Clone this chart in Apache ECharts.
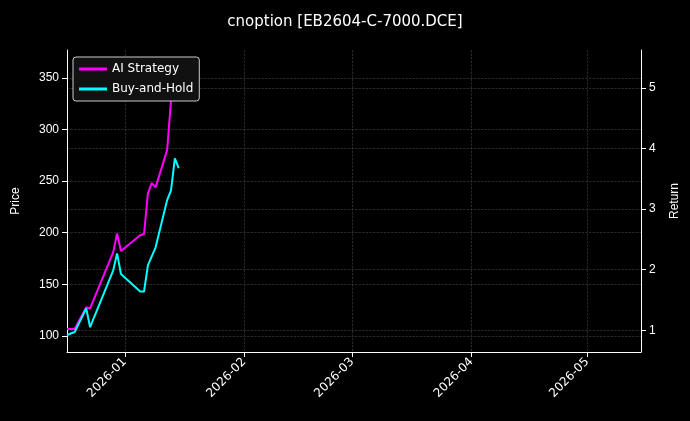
<!DOCTYPE html>
<html>
<head>
<meta charset="utf-8" />
<script src="https://cdn.jsdelivr.net/npm/echarts@6/dist/echarts.min.js"></script>
<style>body{margin:0;background:#000;} #c{width:690px;height:421px;}</style>
</head>
<body>
<div id="c"></div>
<script>
    // 收益曲线数据（读自图片）
    var aiDates = ['2025-12-17', '2025-12-19', '2025-12-22', '2025-12-23', '2025-12-29', '2025-12-30', '2025-12-31',
        '2026-01-05', '2026-01-06', '2026-01-07', '2026-01-08', '2026-01-09', '2026-01-12', '2026-01-13', '2026-01-14'];
    var aiValues = [1.02, 1.02, 1.38, 1.36, 2.29, 2.60, 2.31, 2.57, 2.59, 3.26, 3.43, 3.36, 3.98, 4.80, 5.40];
    var bhDates = ['2025-12-17', '2025-12-19', '2025-12-22', '2025-12-23', '2025-12-24', '2025-12-29', '2025-12-30', '2025-12-31',
        '2026-01-05', '2026-01-06', '2026-01-07', '2026-01-09', '2026-01-12', '2026-01-13', '2026-01-14', '2026-01-15'];
    var bhValues = [0.92, 0.97, 1.36, 1.05, 1.21, 1.99, 2.27, 1.93, 1.64, 1.64, 2.07, 2.37, 3.15, 3.31, 3.84, 3.68];
    var priceTicks = [100, 150, 200, 250, 300, 350];
    var returnTicks = [1, 2, 3, 4, 5];

    function pairs(d, v) { return d.map(function (x, i) { return [x, v[i]]; }); }

    var grid = { color: '#444', type: 'dashed', width: 0.6 };
    var chart = echarts.init(document.getElementById('c'));
    chart.setOption({
        backgroundColor: '#000',
        animation: false,
        title: { text: 'cnoption [EB2604-C-7000.DCE]', left: 'center', top: 10,
            textStyle: { color: '#fff', fontSize: 15, fontWeight: 'normal', fontFamily: 'DejaVu Sans' } },
        legend: {
            left: 73, top: 57, orient: 'vertical', itemWidth: 28, itemHeight: 3, itemGap: 8,
            borderColor: '#ccc', borderWidth: 1, borderRadius: 3, padding: [6, 6], backgroundColor: '#111',
            textStyle: { color: '#fff', fontSize: 12, fontFamily: 'DejaVu Sans' },
            data: [{ name: 'AI Strategy', icon: 'rect' }, { name: 'Buy-and-Hold', icon: 'rect' }]
        },
        grid: { left: 67, right: 49, top: 50, bottom: 69, outerBoundsMode: 'none', containLabel: false },
        xAxis: {
            type: 'time', min: '2025-12-17', max: '2026-05-15', splitNumber: 5,
            axisLine: { lineStyle: { color: '#fff' } },
            axisTick: { lineStyle: { color: '#fff' } },
            axisLabel: { color: '#fff', rotate: 45, fontSize: 12, fontFamily: 'DejaVu Sans',
                formatter: function (v) { var d = new Date(v); return d.getFullYear() + '-' + String(d.getMonth() + 1).padStart(2, '0'); } },
            splitLine: { show: true, lineStyle: grid }
        },
        yAxis: [{
            type: 'value', name: 'Price', nameLocation: 'middle', nameGap: 45, min: 84.5, max: 377,
            nameTextStyle: { color: '#fff', fontSize: 12 },
            axisLine: { show: true, lineStyle: { color: '#fff' } },
            axisTick: { show: true, customValues: priceTicks },
            axisLabel: { color: '#fff', fontSize: 12, customValues: priceTicks },
            splitLine: { show: true, lineStyle: grid }
        }, {
            type: 'value', name: 'Return', nameLocation: 'middle', nameGap: 28, min: 0.64, max: 5.63,
            nameTextStyle: { color: '#fff', fontSize: 12 },
            axisLine: { show: true, lineStyle: { color: '#fff' } },
            axisTick: { show: true, customValues: returnTicks },
            axisLabel: { color: '#fff', fontSize: 12, customValues: returnTicks },
            splitLine: { show: true, lineStyle: grid }
        }],
        series: [
            { name: 'AI Strategy', type: 'line', yAxisIndex: 1, data: pairs(aiDates, aiValues), showSymbol: false,
                lineStyle: { color: '#ff00ff', width: 2 }, itemStyle: { color: '#ff00ff' } },
            { name: 'Buy-and-Hold', type: 'line', yAxisIndex: 1, data: pairs(bhDates, bhValues), showSymbol: false,
                lineStyle: { color: '#00ffff', width: 2 }, itemStyle: { color: '#00ffff' } }
        ]
    });
</script>
</body>
</html>
